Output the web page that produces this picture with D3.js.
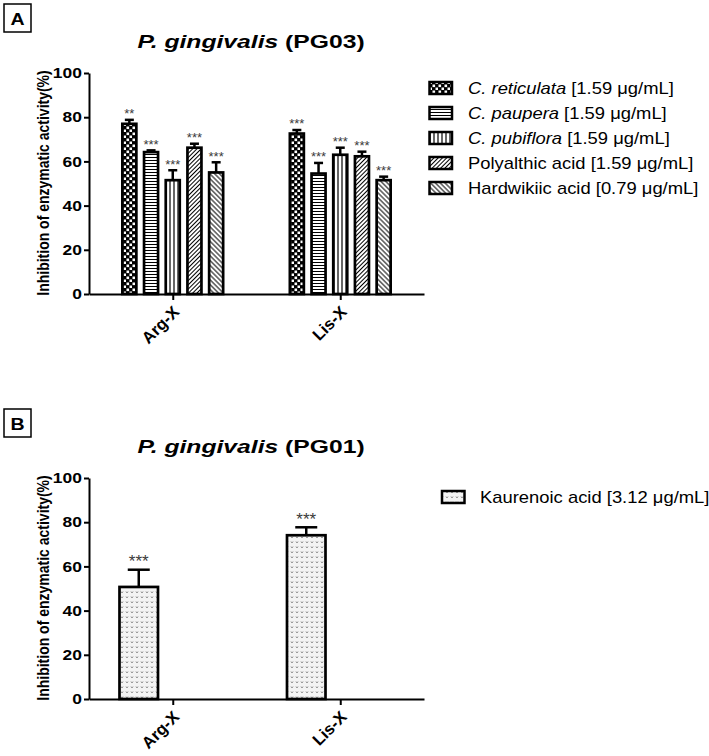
<!DOCTYPE html>
<html>
<head>
<meta charset="utf-8">
<style>
  body { margin: 0; background: #fff; }
  text { font-family: "Liberation Sans", Arial, sans-serif; }
</style>
</head>
<body>
<svg id="chart" width="709" height="756"></svg>
<script src="https://cdn.jsdelivr.net/npm/d3@7"></script>
<script>
// ---- data ----
const groups = ["Arg-X", "Lis-X"];
const yTicks = [0, 20, 40, 60, 80, 100];

const namesA = ["C. reticulata", "C. paupera", "C. pubiflora", "Polyalthic acid", "Hardwikiic acid"];
const italicA = [true, true, true, false, false];
const dosesA = ["[1.59 μg/mL]", "[1.59 μg/mL]", "[1.59 μg/mL]", "[1.59 μg/mL]", "[0.79 μg/mL]"];
const meanArgA = [77, 64.2, 51.5, 66.2, 55];
const errArgA = [1.8, 0.8, 4.5, 1.8, 4.6];
const sigArgA = ["**", "***", "***", "***", "***"];
const meanLisA = [72.6, 54.5, 63, 62.3, 51.5];
const errLisA = [1.6, 4.8, 3.2, 2.1, 1.6];
const sigLisA = ["***", "***", "***", "***", "***"];

const namesB = ["Kaurenoic acid"];
const dosesB = ["[3.12 μg/mL]"];
const meanB = [50.7, 74.1];
const errB = [7.8, 3.6];
const sigB = ["***", "***"];

const svg = d3.select("#chart");
const SX = 1.2;   // the figure's lettering is a bit wider than the fonts we have
const LSX = 1.15; // same for the legend

// ---- hatch patterns ----
const defs = svg.append("defs");
function pat(id, w, h) {
  return defs.append("pattern").attr("id", id)
    .attr("patternUnits", "userSpaceOnUse").attr("width", w).attr("height", h);
}
let p = pat("checker", 6, 6);
p.append("rect").attr("width", 6).attr("height", 6).attr("fill", "#000");
p.append("rect").attr("x", 0.5).attr("y", 0.5).attr("width", 2.6).attr("height", 2.6).attr("fill", "#fff");
p.append("rect").attr("x", 3.5).attr("y", 3.5).attr("width", 2.6).attr("height", 2.6).attr("fill", "#fff");

p = pat("hlines", 6, 3);
p.append("rect").attr("width", 6).attr("height", 3).attr("fill", "#fff");
p.append("line").attr("x1", 0).attr("x2", 6).attr("y1", 1.5).attr("y2", 1.5).attr("stroke", "#000").attr("stroke-width", 1);

p = pat("vlines", 4, 6);
p.append("rect").attr("width", 4).attr("height", 6).attr("fill", "#fff");
p.append("line").attr("x1", 2).attr("x2", 2).attr("y1", 0).attr("y2", 6).attr("stroke", "#000").attr("stroke-width", 1.2);

p = pat("fdiag", 3, 3).attr("patternTransform", "rotate(45)");
p.append("rect").attr("width", 3).attr("height", 3).attr("fill", "#fff");
p.append("line").attr("x1", 1.5).attr("x2", 1.5).attr("y1", 0).attr("y2", 3).attr("stroke", "#000").attr("stroke-width", 1);

p = pat("bdiag", 3.4, 3.4).attr("patternTransform", "rotate(-45)");
p.append("rect").attr("width", 3.4).attr("height", 3.4).attr("fill", "#fff");
p.append("line").attr("x1", 1.7).attr("x2", 1.7).attr("y1", 0).attr("y2", 3.4).attr("stroke", "#000").attr("stroke-width", 1);

p = pat("dots", 5, 5);
p.append("rect").attr("width", 5).attr("height", 5).attr("fill", "#f4f4f4");
p.append("path").attr("d", "M1,1.5 L2,3 L3,1.5").attr("fill", "none").attr("stroke", "#777").attr("stroke-width", 0.8);

const fillsA = ["url(#checker)", "url(#hlines)", "url(#vlines)", "url(#fdiag)", "url(#bdiag)"];
const fillsB = ["url(#dots)"];

// ---- shared scales ----
const x = d3.scalePoint().domain(groups).range([89, 424]).padding(0.5);

function panel(top, letter, strain, rows, barW, step, offset, capW, starSize, legend) {
  const g = svg.append("g").attr("transform", `translate(0,${top})`);
  const y = d3.scaleLinear().domain([0, 100]).range([294, 73]);

  // panel letter
  g.append("rect").attr("x", 4).attr("y", 4).attr("width", 27).attr("height", 28)
    .attr("fill", "none").attr("stroke", "#000").attr("stroke-width", 1.5);
  g.append("text").attr("transform", `translate(17.5,25) scale(1.15,1)`).attr("text-anchor", "middle")
    .attr("font-size", 17).attr("font-weight", "bold").text(letter);

  // title
  const t = g.append("text").attr("transform", "translate(251,48) scale(1.3,1)").attr("text-anchor", "middle")
    .attr("font-size", 19).attr("font-weight", "bold");
  t.append("tspan").attr("font-style", "italic").text("P. gingivalis");
  t.append("tspan").text(" (" + strain + ")");

  // y label
  g.append("text").attr("transform", `translate(49,183) scale(${SX},1) rotate(-90)`)
    .attr("text-anchor", "middle").attr("font-size", 14).attr("font-weight", "bold")
    .text("Inhibition of enzymatic activity(%)");

  // bars
  rows.forEach(r => {
    const cx = x(r.group) + offset + r.i * step;
    g.append("rect").attr("x", cx - barW / 2).attr("y", y(r.mean))
      .attr("width", barW).attr("height", y(0) - y(r.mean))
      .attr("fill", r.fill).attr("stroke", "#000").attr("stroke-width", 2.7);
    const ye = y(r.mean + r.err);
    g.append("line").attr("x1", cx).attr("x2", cx).attr("y1", y(r.mean)).attr("y2", ye)
      .attr("stroke", "#000").attr("stroke-width", 2.5);
    g.append("line").attr("x1", cx - capW / 2).attr("x2", cx + capW / 2).attr("y1", ye).attr("y2", ye)
      .attr("stroke", "#000").attr("stroke-width", 2.5);
    g.append("text").attr("x", cx).attr("y", ye - 0.2 * starSize + 1).attr("text-anchor", "middle")
      .attr("font-size", starSize).attr("fill", "#3a3a3a").text(r.sig);
  });

  // axes
  const ya = g.append("g").attr("transform", "translate(89,0)")
    .call(d3.axisLeft(y).tickValues(yTicks).tickSize(5).tickSizeOuter(0).tickPadding(1));
  ya.select(".domain").attr("stroke-width", 2);
  ya.selectAll(".tick line").attr("stroke-width", 2);
  ya.selectAll(".tick text").attr("font-size", 14.5).attr("font-weight", "bold")
    .attr("font-family", "Liberation Sans, Arial, sans-serif").attr("fill", "#000")
    .attr("transform", `scale(${SX},1)`);

  const xa = g.append("g").attr("transform", "translate(0,294)")
    .call(d3.axisBottom(x).tickSize(6).tickSizeOuter(0));
  xa.select(".domain").attr("stroke-width", 2);
  xa.selectAll(".tick line").attr("stroke-width", 2);
  xa.selectAll(".tick text").attr("font-size", 16.5).attr("font-weight", "bold")
    .attr("font-family", "Liberation Sans, Arial, sans-serif").attr("fill", "#000")
    .attr("text-anchor", "end").attr("dy", null).attr("y", 0)
    .attr("transform", "translate(7,19) rotate(-45)");

  // legend
  legend.items.forEach((it, i) => {
    const ly = legend.y + i * 25;
    g.append("rect").attr("x", legend.x).attr("y", ly - 6).attr("width", 22.5).attr("height", 12)
      .attr("fill", it.fill).attr("stroke", "#000").attr("stroke-width", 2.5);
    const lt = g.append("text").attr("transform", `translate(${legend.x + legend.gap},${ly + 6}) scale(${LSX},1)`)
      .attr("font-size", 16);
    lt.append("tspan").attr("font-style", it.italic ? "italic" : "normal").text(it.name);
    lt.append("tspan").text(" " + it.dose);
  });
}

const rowsA = [];
namesA.forEach((n, i) => {
  rowsA.push({ group: "Arg-X", i, mean: meanArgA[i], err: errArgA[i], sig: sigArgA[i], fill: fillsA[i] });
  rowsA.push({ group: "Lis-X", i, mean: meanLisA[i], err: errLisA[i], sig: sigLisA[i], fill: fillsA[i] });
});
panel(0, "A", "PG03", rowsA, 14, 21.7, -43.4, 9, 13, {
  x: 429.5, y: 88, gap: 38.5,
  items: namesA.map((n, i) => ({ name: n, italic: italicA[i], dose: dosesA[i], fill: fillsA[i] }))
});

const rowsB = groups.map((gr, i) => ({ group: gr, i: 0, mean: meanB[i], err: errB[i], sig: sigB[i], fill: fillsB[0] }));
panel(405, "B", "PG01", rowsB, 38.5, 0, -34, 22, 17, {
  x: 442, y: 92, gap: 38,
  items: namesB.map((n, i) => ({ name: n, italic: false, dose: dosesB[i], fill: fillsB[i] }))
});
</script>
</body>
</html>
